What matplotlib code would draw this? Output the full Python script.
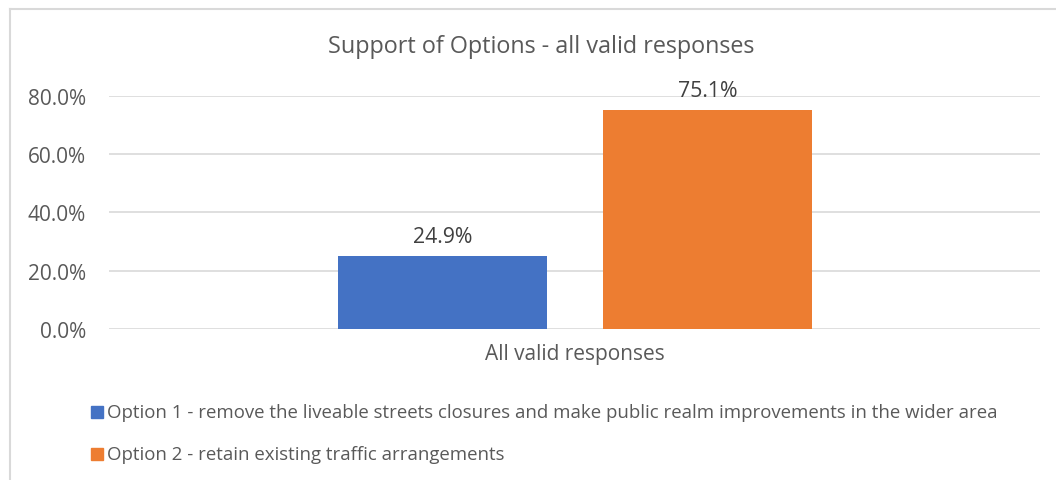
import matplotlib
matplotlib.use("Agg")
import matplotlib.pyplot as plt
from matplotlib.lines import Line2D

categories = ["All valid responses"]
series_names = [
    "Option 1 - remove the liveable streets closures and make public realm improvements in the wider area",
    "Option 2 - retain existing traffic arrangements",
]
series_values = [[24.9], [75.1]]
yticks = [0, 20, 40, 60, 80]
title = "Support of Options - all valid responses"

colors = ["#4472C4", "#ED7D31"]
text_color = "#595959"
label_color = "#404040"
grid_color = "#D9D9D9"

plt.rcParams['font.family'] = ['Open Sans', 'DejaVu Sans']

fig = plt.figure(figsize=(10.56, 4.81), dpi=100)
ax = fig.add_axes([109/1056, 1-330/481, (1040-109)/1056, (330-97)/481])

width = 0.2245
offsets = [-0.1418, 0.1429]
for i, (name, vals) in enumerate(zip(series_names, series_values)):
    xs = [j + offsets[i] for j in range(len(categories))]
    bars = ax.bar(xs, vals, width=width, color=colors[i], label=name, zorder=3)
    for b, v in zip(bars, vals):
        ax.annotate(f"{v:.1f}%", (b.get_x() + b.get_width()/2, v),
                    xytext=(0, 7), textcoords="offset points",
                    ha="center", va="bottom", fontsize=15.3, color=label_color)

ax.set_xlim(-0.5, len(categories) - 0.5)
ax.set_ylim(0, 80)
ax.set_yticks(yticks)
ax.set_yticklabels([f"{t:.1f}%" for t in yticks], fontsize=15, color=text_color)
ax.set_xticks(range(len(categories)))
ax.set_xticklabels(categories, fontsize=15, color=text_color)
ax.tick_params(axis='both', length=0)
ax.tick_params(axis='y', pad=16.5)
ax.tick_params(axis='x', pad=10)
ax.grid(axis='y', color=grid_color, linewidth=1.2, zorder=0)
for s in ax.spines.values():
    s.set_visible(False)
ax.set_axisbelow(True)

fig.text(541/1056, 1-47/481, title, ha="center", va="center", fontsize=16.8, color=text_color)

# legend
leg_y = [413, 455]
for i, name in enumerate(series_names):
    y = 1 - leg_y[i]/481
    fig.patches.append(plt.Rectangle((91/1056, y - 6/481), 12/1056, 12/481,
                                     transform=fig.transFigure, color=colors[i], figure=fig))
    fig.text(107/1056, y, name, ha="left", va="center", fontsize=13.4, color=text_color)

# chart border
fig.add_artist(Line2D([10/1056, 10/1056], [1-10/481, 0], transform=fig.transFigure,
                      color=grid_color, linewidth=1.5))
fig.add_artist(Line2D([10/1056, 1], [1-10/481, 1-10/481], transform=fig.transFigure,
                      color=grid_color, linewidth=1.5))

fig.savefig("out.png", dpi=100, facecolor="white")
